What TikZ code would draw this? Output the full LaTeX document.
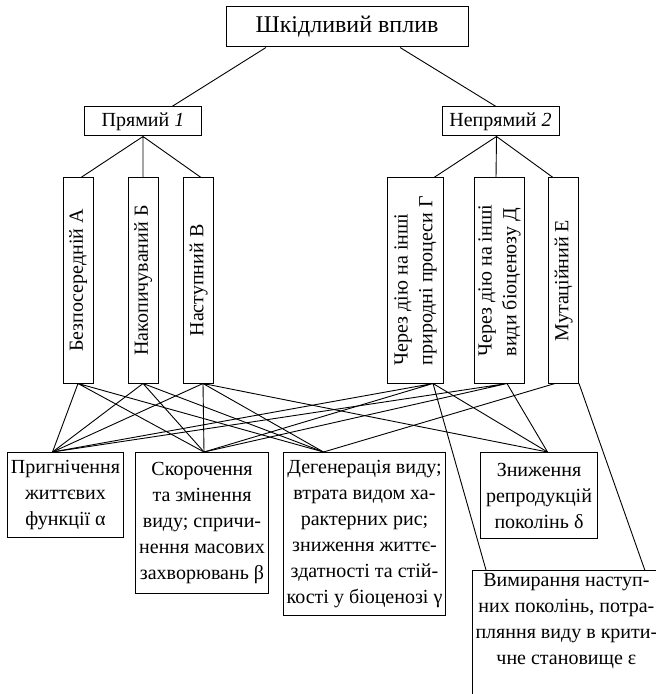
\documentclass[tikz,border=0pt]{standalone}
\usepackage{fontspec}
\setmainfont{Liberation Serif}
\usepackage{graphicx}
\usetikzlibrary{positioning}
\tikzset{
  basebox/.style={rectangle,draw=black,line width=0.5pt,inner sep=1.5pt,
    align=center,font=\fontsize{10}{13}\selectfont},
  headbox/.style={basebox,minimum width=121pt,minimum height=20pt,
    font=\fontsize{12}{14}\selectfont},
  kindbox/.style={basebox,minimum width=58.5pt,minimum height=14.5pt},
  waybox/.style={basebox,minimum height=102.5pt,inner sep=0pt},
  effbox/.style={basebox,anchor=north west},
  link/.style={draw=black,line width=0.45pt},
}
\newcommand{\vlabel}[1]{\rotatebox{90}{\renewcommand{\arraystretch}{0.95}%
  \begin{tabular}{@{}l@{}}#1\end{tabular}}}

\begin{document}
\begin{tikzpicture}[x=0.5pt,y=-0.5pt]
  \clip (0,0) rectangle (656,694);

  % top level
  \node[headbox] (harm) at (347,27) {Шкідливий вплив};
  \node[kindbox] (direct) at (143,121.5) {Прямий \textit{1}};
  \node[kindbox] (indirect) at (500.5,121.5) {Непрямий \textit{2}};

  % kinds of impact
  \node[waybox,minimum width=15pt] (imm) at (78,280.5) {\vlabel{Безпосередній А}};
  \node[waybox,minimum width=15pt] (acc) at (143,280.5) {\vlabel{Накопичуваний Б}};
  \node[waybox,minimum width=15pt] (nxt) at (198.5,280.5) {\vlabel{Наступний В}};
  \node[waybox,minimum width=28pt] (proc) at (415,280.5)
    {\vlabel{Через дію на інші\\природні процеси Г}};
  \node[waybox,minimum width=25pt] (bio) at (499,280.5)
    {\vlabel{Через дію на інші\\види біоценозу Д}};
  \node[waybox,minimum width=15pt] (mut) at (563.5,280.5) {\vlabel{Мутаційний Е}};

  % consequences
  \node[effbox,minimum width=58pt,minimum height=42.5pt] (supp) at (7,452)
    {Пригнічення\\життєвих\\функції α};
  \node[effbox,minimum width=66.5pt,minimum height=70.5pt] (short) at (135,452)
    {Скорочення\\та змінення\\виду; спричи-\\нення масових\\захворювань β};
  \node[effbox,minimum width=81pt,minimum height=81.5pt] (degen) at (283,452)
    {Дегенерація виду;\\втрата видом ха-\\рактерних рис;\\зниження життє-\\здатності та стій-\\кості у біоценозі γ};
  \node[effbox,minimum width=58.5pt,minimum height=43pt] (repro) at (480,452)
    {Зниження\\репродукцій\\поколінь δ};
  \node[effbox,minimum width=93pt,text depth=40pt] (extinct) at (472,570)
    {Вимирання наступ-\\них поколінь, потра-\\пляння виду в крити-\\чне становище ε};

  % attach points
  \coordinate (harm-l) at ([xshift=-40.5pt]harm.south);
  \coordinate (harm-r) at ([xshift=26.5pt]harm.south);
  \coordinate (direct-t) at ([xshift=14.5pt]direct.north);
  \coordinate (indirect-t) at ([xshift=-2.25pt]indirect.north);
  \coordinate (indirect-b) at ([xshift=-2pt]indirect.south);
  \coordinate (imm-t) at ([xshift=1.5pt]imm.north);
  \coordinate (nxt-t) at ([xshift=1.25pt]nxt.north);
  \coordinate (proc-t) at ([xshift=9.5pt]proc.north);
  \coordinate (bio-t) at ([xshift=-1.5pt]bio.north);
  \coordinate (mut-t) at ([xshift=-5.25pt]mut.north);
  \coordinate (nxt-b) at ([xshift=2.25pt]nxt.south);
  \coordinate (proc-b) at ([xshift=9pt]proc.south);
  \coordinate (bio-b) at ([xshift=4pt]bio.south);
  \coordinate (mut-b) at ([xshift=-4.25pt]mut.south);
  \coordinate (supp-t) at ([xshift=-6.5pt]supp.north);
  \coordinate (short-t) at ([xshift=1pt]short.north);
  \coordinate (degen-t) at ([xshift=-20.5pt]degen.north);
  \coordinate (repro-t) at ([xshift=4.25pt]repro.north);
  \coordinate (extinct-l) at ([xshift=7pt]extinct.north west);
  \coordinate (extinct-r) at ([xshift=-8pt]extinct.north east);

  % tree
  \draw[link] (harm-l) -- (direct-t) (harm-r) -- (indirect-t);
  \draw[link] (direct.south) -- (imm-t) (direct.south) -- (acc.north)
    (direct.south) -- (nxt-t);
  \draw[link] (indirect-b) -- (proc-t) (indirect-b) -- (bio-t)
    (indirect-b) -- (mut-t);

  % kinds to consequences
  \draw[link] (imm.south) -- (supp-t) (imm.south) -- (short-t)
    (imm.south) -- (degen-t);
  \draw[link] (acc.south) -- (supp-t) (acc.south) -- (short-t)
    (acc.south) -- (degen-t);
  \draw[link] (nxt-b) -- (supp-t) (nxt-b) -- (short-t)
    (nxt-b) -- (degen-t) (nxt-b) -- (repro-t);
  \draw[link] (proc-b) -- (supp-t) (proc-b) -- (short-t)
    (proc-b) -- (repro-t) (proc-b) -- (extinct-l);
  \draw[link] (bio-b) -- (supp-t) (bio-b) -- (short-t) (bio-b) -- (repro-t);
  \draw[link] (mut-b) -- (degen-t) (mut.south east) -- (extinct-r);

\end{tikzpicture}
\end{document}
